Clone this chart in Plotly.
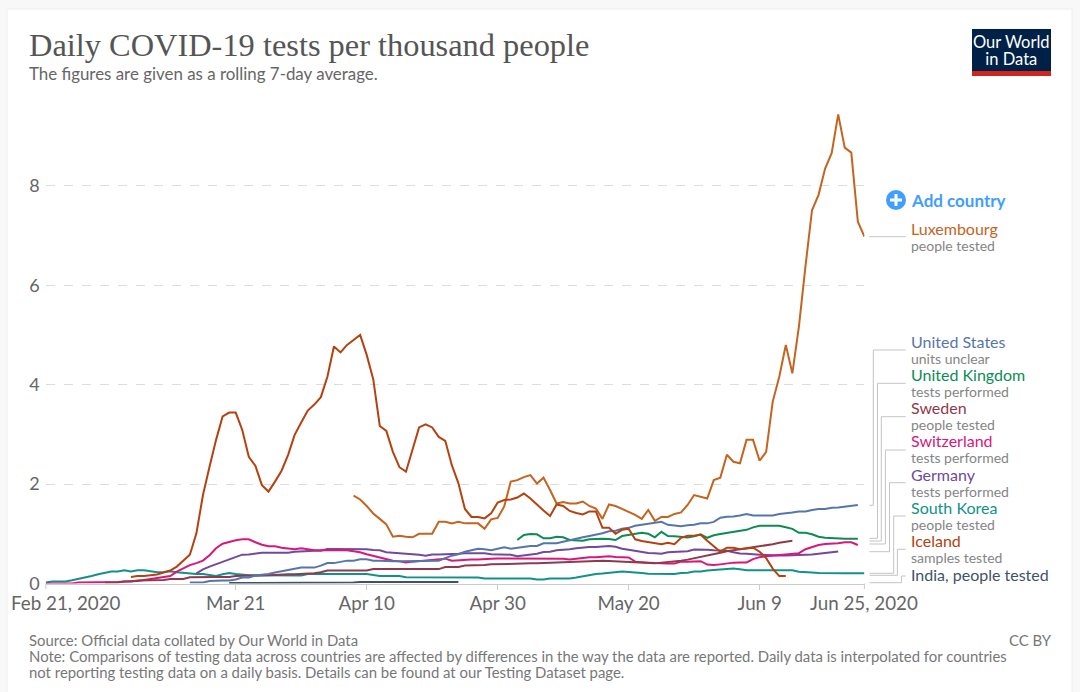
import pandas as pd
import plotly.graph_objects as go

W, H = 1080, 692
START = pd.Timestamp("2020-02-21")

iceland = [.13,.15,.15,.16,.18,.22,.26,.34,.46,.58,
 1.01,1.78,2.35,2.89,3.36,3.44,3.44,3.09,2.55,2.37,
 1.98,1.85,2.05,2.27,2.59,2.99,3.24,3.48,3.60,3.75,
 4.16,4.77,4.65,4.80,4.90,5.0,4.60,4.11,3.17,3.07,
 2.65,2.34,2.25,2.72,3.14,3.20,3.14,2.95,2.87,2.38,
 2.02,1.50,1.34,1.34,1.31,1.41,1.63,1.68,1.69,1.73,
 1.81,1.71,1.58,1.47,1.36,1.59,1.56,1.46,1.42,1.39,
 1.45,1.45,1.12,1.12,1.0,1.08,1.10,.89,.855,.83,
 .81,.79,.82,.79,.92,.96,.96,.98,.86,.74,
 .64,.72,.72,.69,.71,.72,.64,.51,.30,.15,.15]
luxembourg = [1.77,1.69,1.56,1.41,1.30,1.19,.94,.96,.94,.93,
 1.0,1.0,1.0,1.24,1.24,1.21,1.24,1.21,1.21,1.21,
 1.10,1.29,1.32,1.55,2.05,2.08,2.14,2.18,2.01,2.13,
 1.88,1.61,1.64,1.61,1.61,1.65,1.56,1.51,1.30,1.59,
 1.56,1.50,1.44,1.38,1.30,1.48,1.26,1.34,1.34,1.40,
 1.43,1.58,1.78,1.75,1.71,2.08,2.13,2.59,2.45,2.42,
 2.89,2.89,2.47,2.65,3.66,4.16,4.80,4.23,5.17,6.38,
 7.51,7.82,8.35,8.66,9.44,8.77,8.67,7.28,6.98]
united_states = [.02,.02,.02,.05,.06,.06,.06,.08,.12,.12,
 .16,.17,.19,.22,.245,.27,.29,.32,.32,.32,
 .36,.41,.41,.43,.46,.46,.49,.49,.46,.46,
 .45,.45,.45,.45,.45,.45,.45,.45,.46,.51,
 .56,.59,.64,.67,.70,.69,.67,.70,.73,.70,
 .72,.74,.755,.755,.81,.81,.81,.84,.875,.91,
 .93,.955,.98,1.01,1.05,1.06,1.10,1.12,1.16,1.18,
 1.21,1.22,1.24,1.18,1.16,1.15,1.17,1.18,1.21,1.21,
 1.24,1.325,1.345,1.35,1.37,1.40,1.37,1.37,1.37,1.37,
 1.40,1.41,1.43,1.45,1.45,1.48,1.50,1.50,1.525,1.53,
 1.55,1.56,1.58]
united_kingdom = [.875,.975,.995,.99,.91,.91,.94,.93,.875,.86,
 .86,.89,.90,.90,.895,.875,.955,.975,1.01,1.02,
 1.0,.93,1.04,.955,.95,.94,.925,.95,.99,.92,
 .97,.995,1.02,1.03,1.06,1.08,1.13,1.16,1.16,1.16,
 1.16,1.13,1.10,1.02,1.02,.99,.94,.92,.91,.90,
 .90,.90,.90]
sweden = [.02,.02,.02,.04,.04,.06,.06,.07,.07,.07,
 .09,.09,.09,.125,.13,.13,.13,.13,.13,.13,
 .15,.15,.15,.15,.15,.165,.17,.185,.185,.185,
 .19,.20,.205,.225,.26,.26,.26,.26,.26,.26,
 .26,.29,.29,.29,.29,.29,.29,.29,.29,.29,
 .29,.29,.33,.33,.33,.36,.36,.37,.37,.385,
 .39,.40,.405,.405,.405,.405,.405,.41,.42,.42,
 .43,.435,.44,.44,.46,.465,.46,.455,.45,.44,
 .43,.42,.42,.41,.405,.42,.43,.44,.46,.48,
 .505,.54,.57,.59,.62,.65,.67,.69,.71,.73,
 .74,.76,.79,.82,.84,.86]
switzerland = [0,0,0,0,0,.02,.02,.02,.02,.03,
 .03,.03,.04,.04,.05,.07,.09,.10,.12,.15,
 .24,.31,.37,.41,.46,.57,.71,.80,.84,.87,
 .89,.89,.83,.78,.75,.75,.72,.71,.69,.71,
 .69,.67,.67,.67,.67,.67,.67,.65,.63,.59,
 .555,.53,.50,.46,.445,.425,.44,.45,.46,.47,
 .48,.50,.46,.47,.485,.485,.485,.485,.50,.505,
 .505,.505,.505,.505,.505,.505,.505,.505,.505,.50,
 .485,.50,.51,.53,.53,.54,.55,.535,.53,.525,
 .44,.425,.42,.41,.40,.40,.40,.44,.44,.45,
 .45,.38,.37,.385,.405,.42,.425,.425,.49,.53,
 .55,.56,.57,.58,.585,.61,.69,.74,.775,.795,
 .80,.81,.83,.83,.775]
germany = [.205,.285,.34,.39,.44,.49,.53,.58,.585,.61,
 .62,.62,.62,.62,.62,.64,.65,.65,.66,.66,
 .695,.695,.695,.695,.695,.695,.69,.675,.67,.63,
 .62,.62,.60,.59,.58,.56,.585,.585,.585,.59,
 .60,.61,.615,.615,.61,.59,.59,.59,.58,.55,
 .565,.59,.60,.635,.64,.67,.675,.69,.71,.73,
 .735,.735,.74,.755,.74,.70,.68,.66,.635,.615,
 .61,.60,.63,.64,.64,.65,.685,.69,.68,.67,
 .67,.66,.63,.605,.60,.585,.58,.575,.565,.565,
 .565,.565,.565,.58,.585,.60,.62,.635,.645]
south_korea = [.02,.04,.04,.04,.065,.09,.12,.15,.185,.22,
 .24,.24,.265,.24,.265,.265,.245,.225,.23,.245,
 .225,.21,.19,.19,.19,.17,.15,.185,.21,.19,
 .17,.165,.165,.165,.165,.16,.155,.15,.155,.16,
 .19,.195,.19,.19,.19,.19,.19,.19,.19,.19,
 .17,.15,.15,.15,.15,.125,.125,.125,.125,.125,
 .125,.125,.125,.125,.125,.125,.12,.10,.10,.10,
 .10,.10,.10,.10,.10,.08,.08,.10,.10,.10,
 .10,.12,.14,.175,.19,.20,.21,.235,.24,.23,
 .225,.21,.195,.19,.20,.19,.19,.21,.215,.24,
 .24,.26,.27,.285,.30,.30,.285,.265,.265,.265,
 .265,.265,.265,.265,.265,.235,.22,.22,.21,.205,
 .205,.205,.205,.205,.205,.205]
india = [.01]*19 + [.02] + [.03]*16

series_names = ["India", "South Korea", "Germany", "Switzerland", "Sweden", "United Kingdom", "United States", "Luxembourg", "Iceland"]
series_values = [india, south_korea, germany, switzerland, sweden, united_kingdom, united_states, luxembourg, iceland]
series_start_days = [28, 0, 23, 0, 9, 72, 22, 47, 13]
series_colors = ["#3f5368", "#12918a", "#6f4a9e", "#d9177a", "#8f3a4c", "#0b8c55", "#5676ab", "#c4641f", "#b5410f"]

x_ticks = ["2020-03-21", "2020-04-10", "2020-04-30", "2020-05-20", "2020-06-09"]
x_tick_labels = ["Mar 21", "Apr 10", "Apr 30", "May 20", "Jun 9"]
first_label, last_label = "Feb 21, 2020", "Jun 25, 2020"
y_ticks = [0, 2, 4, 6, 8]

TEXT = "#666666"
FONT = "Lato"

def px(x): return x / W
def py(y): return 1 - y / H

fig = go.Figure()
for name, vals, s, col in zip(series_names, series_values, series_start_days, series_colors):
    fig.add_trace(go.Scatter(
        x=[START + pd.Timedelta(days=s + i) for i in range(len(vals))],
        y=vals, mode="lines", name=name, cliponaxis=False,
        line=dict(color=col, width=2), hoverinfo="x+y+name", showlegend=False))

shapes = []
annos = []

def text(x, y, t, size, color, anchor="left", family=FONT):
    nudge = {"left": -1, "right": 1, "center": 0}[anchor]
    annos.append(dict(x=px(x + nudge), y=py(y), xref="paper", yref="paper", text=t, showarrow=False,
                      xanchor=anchor, yanchor="middle", align=anchor,
                      font=dict(family=family, size=size, color=color), borderpad=0))

def rect(x0, y0, x1, y1, color, line=None):
    shapes.append(dict(type="rect", xref="paper", yref="paper", x0=px(x0), x1=px(x1), y0=py(y0), y1=py(y1),
                       fillcolor=color, line=dict(width=1 if line else 0, color=line or color), layer="below"))

def seg(pts, color="#c4c4c4"):
    path = "M " + " L ".join(f"{px(a):.5f},{py(b):.5f}" for a, b in pts)
    shapes.append(dict(type="path", xref="paper", yref="paper", path=path,
                       line=dict(color=color, width=1), layer="below"))

rect(7, 9, 1072, 700, "#ffffff", "#eeeeee")

text(29, 44.5, "Daily COVID-19 tests per thousand people", 32.4, "#555555", family="Liberation Serif")
text(29, 74, "The figures are given as a rolling 7-day average.", 16.9, TEXT)

rect(972, 29, 1051, 76, "#002147")
rect(972, 71, 1051, 76, "#ce261e")
text(1011.5, 50.5, '<span style="font-size:16.5px">Our World</span><br><span style="font-size:16.5px">in Data</span>',
     13.1, "#ffffff", "center")

shapes.append(dict(type="circle", xref="paper", yref="paper", x0=px(886), x1=px(906), y0=py(190), y1=py(210),
                   fillcolor="#3f9eff", line=dict(width=0)))
seg([(890, 200), (902, 200)], "#ffffff"); shapes[-1]["line"]["width"] = 3; shapes[-1]["layer"] = "above"
seg([(896, 194), (896, 206)], "#ffffff"); shapes[-1]["line"]["width"] = 3; shapes[-1]["layer"] = "above"
text(911, 201, "<b>Add country</b>", 17, "#3f9eff")

legend_labels = [
    ("Luxembourg", "people tested", 236, "#c4641f"),
    ("United States", "units unclear", 349, "#5676ab"),
    ("United Kingdom", "tests performed", 382, "#0b8c55"),
    ("Sweden", "people tested", 415.5, "#8f3a4c"),
    ("Switzerland", "tests performed", 448.5, "#d9177a"),
    ("Germany", "tests performed", 482, "#6f4a9e"),
    ("South Korea", "people tested", 515, "#12918a"),
    ("Iceland", "samples tested", 548.5, "#b5410f"),
]
for nm, sub, yc, col in legend_labels:
    label = (f'<span style="font-size:16px;color:{col}">{nm}</span><br>'
             f'<span style="font-size:14px;color:#858585">{sub}</span>')
    text(911, yc, label, 12.1, "#858585")
text(911, 574.5, "India, people tested", 16, "#3f5368")

seg([(869.3, 236.7), (905.7, 236.7)])
connectors = [(873.3, 350, 505.3), (877.5, 383.3, 538.3), (881.3, 416.7, 541), (885.4, 450, 544),
              (889.5, 482.7, 551.7), (893.7, 516, 573.3), (897.4, 549.3, 575.3), (901.6, 576, 582.7)]
for vx, top, bot in connectors:
    seg([(869.5, bot), (vx, bot), (vx, top), (905.7, top)])

text(65.5, 602, first_label, 18.8, TEXT, "center")
text(864, 602, last_label, 18.8, TEXT, "center")
seg([(45.8, 583.5), (45.8, 589)], "#cccccc")
seg([(864.4, 583.5), (864.4, 589)], "#cccccc")

text(29, 639.5, "Source: Official data collated by Our World in Data", 14.9, "#777777")
text(29, 655.5, "Note: Comparisons of testing data across countries are affected by differences in the way the data are reported. Daily data is interpolated for countries", 14.9, "#777777")
text(29, 671.5, "not reporting testing data on a daily basis. Details can be found at our Testing Dataset page.", 14.9, "#777777")
text(1052, 639.5, "CC BY", 14.9, "#777777", "right")

fig.update_layout(
    width=W, height=H, autosize=False,
    margin=dict(l=0, r=0, t=0, b=0),
    paper_bgcolor="#f8f8f8", plot_bgcolor="rgba(0,0,0,0)",
    shapes=shapes, annotations=annos,
    xaxis=dict(domain=[px(45.8), px(864.4)], type="date", automargin=False,
               range=["2020-02-21", "2020-06-25"],
               tickmode="array", tickvals=x_ticks, ticktext=x_tick_labels,
               ticks="outside", ticklen=5, tickcolor="#cccccc", tickwidth=1, ticklabelstandoff=-2,
               showgrid=False, zeroline=False, showline=True, linecolor="#cccccc", linewidth=1,
               tickfont=dict(family=FONT, size=18.8, color=TEXT)),
    yaxis=dict(domain=[py(583.5), py(100)], range=[0, 483.5 / 49.7], automargin=False,
               tickmode="array", tickvals=y_ticks, ticks="", showline=False, zeroline=False,
               ticklabelstandoff=5,
               showgrid=True, gridcolor="#dddddd", griddash="dash", gridwidth=1,
               tickfont=dict(family=FONT, size=18, color=TEXT)),
)

fig.write_html("out.html", config={"displayModeBar": False},
               post_script="document.body.style.margin='0';document.documentElement.style.overflow='hidden';")
